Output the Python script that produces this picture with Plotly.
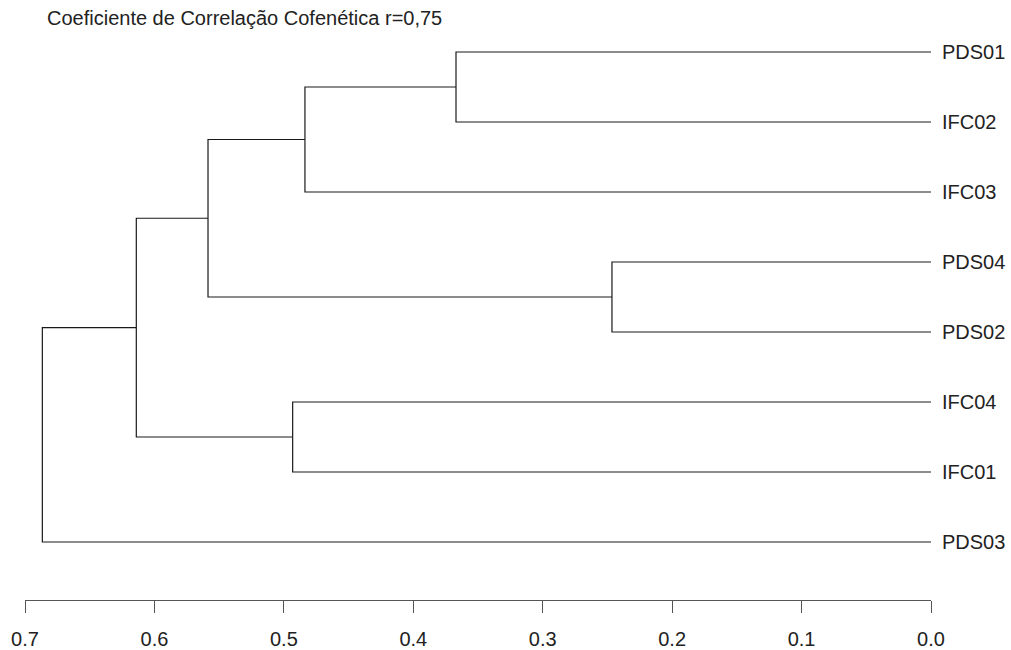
import plotly.graph_objects as go

# Leaves in dendrogram order (top to bottom)
labels = ["PDS01", "IFC02", "IFC03", "PDS04", "PDS02", "IFC04", "IFC01", "PDS03"]
# hclust-style merges: negative = leaf index (1-based), positive = earlier merge step
merge_a = [-1, 1, -4, 2, -6, 4, 6]
merge_b = [-2, -3, -5, 3, -7, 5, -8]
merge_height = [0.367, 0.4837, 0.2465, 0.5586, 0.4932, 0.614, 0.6866]
x_ticks = [0.7, 0.6, 0.5, 0.4, 0.3, 0.2, 0.1, 0.0]
title_text = "Coeficiente de Correlação Cofenética r=0,75"

node_pos = {}
def pos(ref):
    if ref < 0:
        return 0.0, float(-ref - 1)
    return node_pos[ref]

xs, ys = [], []
for i, (a, b, h) in enumerate(zip(merge_a, merge_b, merge_height), start=1):
    xa, ya = pos(a)
    xb, yb = pos(b)
    xs += [xa, h, h, xb, None]
    ys += [ya, ya, yb, yb, None]
    node_pos[i] = (h, (ya + yb) / 2)

fig = go.Figure()
fig.add_trace(go.Scatter(x=xs, y=ys, mode="lines",
                         line=dict(color="#1a1a1a", width=1.2),
                         hoverinfo="skip", showlegend=False))

font_family = "Liberation Sans, Arial, sans-serif"
fig.update_layout(
    width=1011, height=650,
    margin=dict(l=25, r=80, t=40, b=50, autoexpand=False),
    plot_bgcolor="white", paper_bgcolor="white",
    font=dict(family=font_family, size=20, color="#222222"),
    xaxis=dict(range=[0.7, 0.0], tickvals=x_ticks,
               ticktext=[f"{v:.1f}" for v in x_ticks],
               showgrid=False, zeroline=False, automargin=False,
               showline=True, linecolor="#555555", linewidth=1,
               ticks="outside", ticklen=12, tickcolor="#555555", tickwidth=1,
               ticklabelstandoff=9,
               tickfont=dict(size=20, color="#222222")),
    yaxis=dict(range=[548 / 70, -12 / 70], side="right",
               tickvals=list(range(len(labels))), ticktext=labels,
               showgrid=False, zeroline=False, showline=False, ticks="",
               automargin=False, ticklabelstandoff=10,
               tickfont=dict(size=20, color="#222222")),
    annotations=[dict(text=title_text, xref="paper", yref="paper",
                      x=(45 - 25) / 906, y=1 + (40 - 17.5) / 560,
                      xanchor="left", yanchor="middle", showarrow=False,
                      font=dict(size=20, color="#222222", family=font_family))],
)

# remove the browser's default 8px body margin so the figure fills the window exactly
fig.write_html("out.html",
               config={"displayModeBar": False},
               post_script="document.body.style.margin='0';"
                           "document.body.style.overflow='hidden';")
